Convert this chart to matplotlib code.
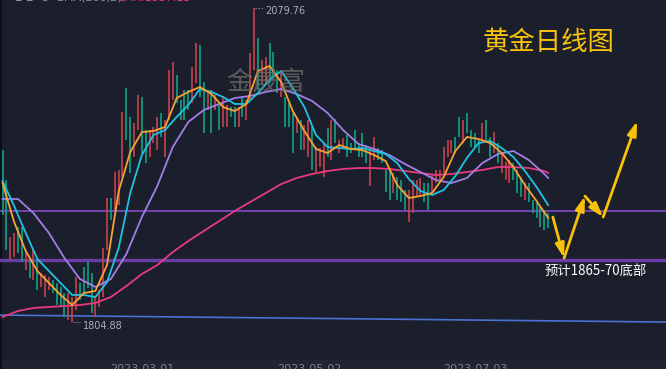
import matplotlib
matplotlib.use("Agg")
import matplotlib.pyplot as plt
import numpy as np

plt.rcParams['font.family'] = ['Noto Sans CJK SC', 'DejaVu Sans']

# daily candles (high / low, 1 = red up, 0 = green down)
highs = [1955.5, 1929.2, 1879.3, 1882.8, 1888.1, 1888.1, 1867.9, 1859.2, 1869.7, 1859.2,
         1847.8, 1846.1, 1844.3, 1841.7, 1839.1, 1835.6, 1830.3, 1830.3, 1826.8, 1844.3,
         1839.1, 1853.1, 1857.4, 1847.8, 1826.8, 1832.9, 1869.7, 1913.5, 1913.5, 1936.2,
         1938.0, 1988.8, 2009.8, 1984.4, 1979.1, 2003.6, 2001.9, 1973.0, 1973.0, 1975.6,
         1984.4, 1987.9, 1981.8, 2025.5, 2032.5, 2021.1, 1999.3, 2008.0, 2008.0, 2028.1,
         2049.2, 2047.4, 2015.0, 2008.0, 2008.0, 2003.6, 1996.6, 2001.9, 1994.9, 1993.1,
         1993.1, 1993.1, 2001.9, 1999.3, 2040.4, 2079.76, 2053.5, 2034.3, 2036.9, 2049.2,
         2041.3, 2025.5, 2022.9, 2001.9, 1996.6, 1987.9, 1984.4, 1981.8, 1977.4, 1981.8,
         1975.6, 1958.1, 1957.2, 1961.6, 1974.7, 1981.8, 1982.6, 1964.2, 1966.0, 1968.6,
         1961.6, 1973.0, 1961.6, 1970.4, 1959.9, 1958.1, 1966.9, 1957.2, 1955.5, 1938.0,
         1938.0, 1935.4, 1931.9, 1929.2, 1920.5, 1920.5, 1929.2, 1929.2, 1931.0, 1926.6,
         1926.6, 1933.6, 1938.0, 1938.0, 1958.1, 1964.2, 1964.2, 1966.9, 1984.4, 1981.8,
         1987.9, 1973.0, 1970.4, 1964.2, 1979.1, 1981.8, 1966.9, 1971.2, 1961.6, 1952.9,
         1945.0, 1946.7, 1944.1, 1938.0, 1931.9, 1926.6, 1926.6, 1911.7, 1909.1, 1905.6,
         1903.0, 1900.3]
lows = [1898.6, 1867.9, 1859.2, 1861.8, 1865.3, 1857.4, 1850.4, 1843.4, 1841.7, 1832.9,
        1835.6, 1826.8, 1832.9, 1830.3, 1819.8, 1818.1, 1809.3, 1806.5, 1804.88, 1815.4,
        1824.2, 1830.3, 1834.7, 1812.8, 1809.3, 1818.1, 1826.8, 1867.9, 1894.2, 1903.0,
        1907.3, 1931.9, 1964.2, 1935.4, 1949.4, 1973.0, 1952.9, 1944.1, 1949.4, 1961.6,
        1955.5, 1966.9, 1949.4, 1981.8, 1999.3, 1996.6, 1981.8, 1981.8, 1990.5, 1996.6,
        2014.1, 2001.9, 1970.4, 1990.5, 1970.4, 1990.5, 1973.0, 1975.6, 1975.6, 1984.4,
        1975.6, 1975.6, 1984.4, 1981.8, 1999.3, 2025.5, 2008.0, 2014.1, 2014.1, 2014.1,
        2019.4, 2005.4, 2001.9, 1975.6, 1975.6, 1952.9, 1970.4, 1955.5, 1955.5, 1949.4,
        1938.0, 1936.2, 1940.6, 1931.9, 1949.4, 1946.7, 1961.6, 1952.9, 1957.2, 1949.4,
        1952.9, 1955.5, 1949.4, 1949.4, 1944.1, 1924.0, 1946.7, 1946.7, 1944.1, 1918.7,
        1911.7, 1917.8, 1911.7, 1910.0, 1902.9, 1892.5, 1900.3, 1914.3, 1914.3, 1910.0,
        1902.9, 1917.8, 1926.6, 1929.2, 1935.4, 1949.4, 1952.9, 1952.9, 1966.9, 1961.6,
        1970.4, 1958.1, 1958.1, 1952.9, 1964.2, 1961.6, 1949.4, 1952.9, 1944.1, 1935.4,
        1929.2, 1926.6, 1929.2, 1917.8, 1914.3, 1911.7, 1910.0, 1900.3, 1896.0, 1888.1,
        1885.5, 1887.2]
up = [0, 0, 1, 1, 0, 0, 1, 0, 1, 0,
      1, 1, 1, 0, 0, 0, 0, 1, 1, 1,
      0, 0, 0, 0, 1, 1, 1, 1, 0, 1,
      1, 1, 0, 0, 1, 1, 0, 0, 1, 1,
      1, 0, 1, 1, 1, 0, 0, 0, 0, 1,
      1, 0, 0, 1, 0, 1, 0, 1, 1, 0,
      0, 1, 0, 1, 1, 1, 0, 1, 1, 0,
      0, 0, 1, 0, 0, 0, 1, 0, 1, 1,
      0, 1, 1, 1, 0, 1, 0, 1, 1, 0,
      0, 0, 0, 0, 0, 1, 1, 0, 0, 0,
      0, 1, 0, 0, 0, 1, 1, 1, 1, 0,
      0, 1, 1, 1, 1, 1, 1, 0, 0, 1,
      0, 0, 0, 0, 1, 0, 0, 1, 0, 1,
      1, 1, 0, 0, 0, 1, 0, 0, 0, 0,
      0, 0]

# moving averages
ma_fast_idx = list(range(0, 142, 3))
ma5 = [1926.6, 1892.5, 1867.1, 1849.6, 1839.1, 1828.6, 1819.8, 1830.3, 1832.1, 1854.8,
       1919.1, 1953.7, 1971.2, 1972.1, 1975.6, 2001.0, 2006.3, 2010.6, 2004.5, 1993.1,
       1989.6, 1995.8, 2024.6, 2029.0, 2015.0, 1989.6, 1972.1, 1956.4, 1952.9, 1959.9,
       1956.4, 1955.5, 1951.1, 1945.9, 1924.8, 1913.5, 1915.2, 1917.9, 1931.9, 1954.6,
       1966.9, 1965.1, 1961.6, 1952.9, 1940.6, 1924.8, 1910.8, 1896.0]
ma10 = [1928.4, 1906.5, 1882.8, 1860.1, 1849.6, 1839.1, 1828.6, 1828.6, 1826.8, 1839.9,
        1869.7, 1917.8, 1951.1, 1968.6, 1973.0, 1984.4, 1994.9, 2008.9, 2006.3, 2001.9,
        1995.8, 1995.8, 2005.4, 2016.8, 2024.6, 2009.8, 1993.1, 1968.6, 1958.1, 1957.2,
        1956.4, 1957.2, 1954.6, 1952.0, 1944.1, 1930.1, 1919.6, 1916.1, 1920.5, 1932.7,
        1948.5, 1961.6, 1963.4, 1957.2, 1949.4, 1937.1, 1923.1, 1907.3]
ma_slow_idx = list(range(0, 141, 4)) + [141]
ma30 = [1912.6, 1912.6, 1900.3, 1882.8, 1860.9, 1842.6, 1835.6, 1842.6, 1864.4, 1896.8,
        1924.0, 1958.1, 1980.0, 1990.5, 1995.8, 2001.0, 2002.8, 2006.3, 2008.9, 2004.5,
        1998.4, 1987.9, 1973.0, 1960.7, 1956.4, 1951.1, 1943.2, 1936.2, 1929.2, 1926.6,
        1931.0, 1944.1, 1952.0, 1954.6, 1946.7, 1934.5, 1931.0]
ema200 = [1809.3, 1814.6, 1817.2, 1818.1, 1818.9, 1819.8, 1821.6, 1826.8, 1836.4, 1846.9,
          1854.8, 1866.2, 1875.8, 1884.6, 1893.3, 1902.1, 1910.0, 1917.8, 1925.7, 1931.0,
          1934.5, 1937.1, 1938.9, 1939.7, 1939.7, 1938.9, 1937.1, 1935.4, 1933.6, 1934.5,
          1936.2, 1938.0, 1940.6, 1940.6, 1939.7, 1937.1, 1935.4]

# support / trend lines and forecast path
level_upper = 1902.1
level_lower = 1859.2
trend_idx = [-0.65, 171.4]
trend_val = [1811.0, 1804.9]
path_idx = [142.2, 145.1, 150.5, 155.2, 164.0]
path_val = [1896.8, 1860.9, 1915.2, 1896.8, 1980.9]
date_labels = ['2023-03-01', '2023-05-02', '2023-07-03']

bg = '#1a1f2b'
gold = '#f8c10a'
fig = plt.figure(figsize=(6.66, 3.69), dpi=100, facecolor=bg)
ax = fig.add_axes([0, 0, 1, 1])
ax.set_facecolor(bg)
ax.set_xlim(-0.65, 171.44)
ax.set_ylim(1763.8, 2086.8)
ax.axis('off')

ax.axhspan(1763.8, 1771.5, color='#1f2430', zorder=0)
ax.axvline(-0.5, color='#0c0f15', lw=1.5, zorder=0)

ax.axhline(level_upper, color='#8c4fd8', lw=1.1, zorder=1)
ax.axhline(level_lower, color='#6a3da6', lw=2.4, zorder=1)
ax.plot(trend_idx, trend_val, color='#4a72d4', lw=1.2, zorder=1)

idx = np.arange(len(highs))
cols = ['#c8434e' if u else '#10a287' for u in up]
ax.vlines(idx, lows, highs, colors=cols, lw=1.2, zorder=2)

ax.plot(ma_slow_idx, ema200, color='#e93a7d', lw=1.3, zorder=3)
ax.plot(ma_slow_idx, ma30, color='#a27ee6', lw=1.3, zorder=3)
ax.plot(ma_fast_idx, ma10, color='#1fc3e0', lw=1.3, zorder=4)
ax.plot(ma_fast_idx, ma5, color='#f7a233', lw=1.3, zorder=5)

# extreme labels
imax = int(np.argmax(highs))
imin = int(np.argmin(lows))
ax.plot([imax + 0.2, imax + 2.4], [highs[imax]] * 2, ls=':', color='#9aa0aa', lw=0.8)
ax.annotate(f"{highs[imax]:.2f}", (imax + 2.9, highs[imax]), xytext=(0, -3),
            textcoords='offset pixels', color='#a9aeb8', fontsize=7,
            family='DejaVu Sans', va='center', ha='left')
ax.plot([imin + 0.3, imin + 2.2], [lows[imin]] * 2, ls=':', color='#9aa0aa', lw=0.8)
ax.annotate(f"{lows[imin]:.2f}", (imin + 2.7, lows[imin]), xytext=(0, -4),
            textcoords='offset pixels', color='#a9aeb8', fontsize=7,
            family='DejaVu Sans', va='center', ha='left')

# forecast arrows
for k in range(len(path_idx) - 1):
    ax.annotate('', xy=(path_idx[k + 1], path_val[k + 1]), xytext=(path_idx[k], path_val[k]),
                arrowprops=dict(arrowstyle='-|>,head_width=0.22,head_length=0.7',
                                color=gold, lw=2, shrinkA=0, shrinkB=0,
                                mutation_scale=12), zorder=6)

ax.text(548 / 666, 1 - 42 / 369, '黄金日线图', transform=ax.transAxes, color=gold,
        fontsize=19, ha='center', va='center')
ax.text(596 / 666, 1 - 271 / 369, '预计1865-70底部', transform=ax.transAxes,
        color='white', fontsize=9.6, ha='center', va='center', zorder=7)
ax.text(266 / 666, 1 - 82 / 369, '金晟富', transform=ax.transAxes, color='#6e6e6e',
        alpha=0.75, fontsize=19, ha='center', va='center', zorder=6)

# clipped header and date axis
fig.text(15 / 666, 1 - 3 / 369, '▪ ▪  ⊙  EMA(200,2)', color='#8c919b', fontsize=8,
         va='bottom', family='DejaVu Sans')
fig.text(118 / 666, 1 - 3 / 369, 'EMA:1937.15', color='#e93a7d', fontsize=8,
         va='bottom', family='DejaVu Sans')
for xp, lab in zip([110, 277, 443], date_labels):
    fig.text(xp / 666, 1 - 364 / 369, lab, color='#7d828c', fontsize=8,
             va='top', family='DejaVu Sans')

fig.savefig('out.png', dpi=100, facecolor=bg)
